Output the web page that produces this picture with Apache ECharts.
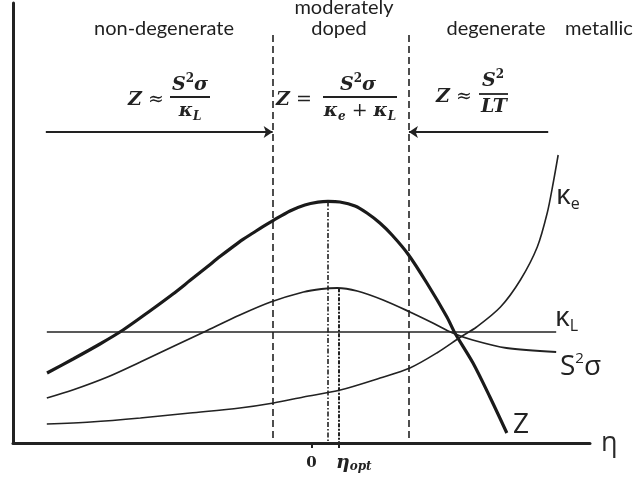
<!DOCTYPE html>
<html>
<head>
<meta charset="utf-8">
<script src="https://cdn.jsdelivr.net/npm/echarts@6/dist/echarts.min.js"></script>
<style>
  html, body { margin: 0; padding: 0; background: #fff; }
  #chart { width: 637px; height: 483px; }
</style>
</head>
<body>
<div id="chart"></div>
<script>
// Reduced Fermi level η on x, relative magnitude on y (arbitrary units).
const zCurve = [
  [-13.29, 3.5], [-11.98, 4.2], [-10.63, 4.95], [-9.47, 5.65], [-8.12, 6.6],
  [-6.96, 7.45], [-6.11, 8.12], [-5.25, 8.8], [-4.6, 9.32], [-3.94, 9.82],
  [-3.44, 10.18], [-2.94, 10.5], [-2.44, 10.82], [-1.93, 11.12], [-1.08, 11.6],
  [-0.33, 11.9], [0.33, 12.04], [0.83, 12.08], [1.43, 12.05], [2.19, 11.85],
  [2.79, 11.5], [3.44, 11.0], [4.05, 10.4], [4.85, 9.45], [5.8, 8.0],
  [6.81, 6.3], [7.21, 5.5], [8.12, 4.0], [8.97, 2.3], [9.82, 0.5]
];
const powerFactor = [
  [-13.3, 2.25], [-12.0, 2.65], [-10.25, 3.3], [-8.6, 4.05], [-6.9, 4.85],
  [-5.4, 5.55], [-3.6, 6.4], [-2.05, 7.05], [-0.4, 7.55], [0.5, 7.7], [1.3, 7.75],
  [2.3, 7.6], [3.6, 7.15], [4.95, 6.55], [6.1, 6.0], [7.1, 5.5],
  [8.1, 5.15], [9.8, 4.75], [12.3, 4.55]
];
const kappaE = [
  [-13.3, 0.95], [-11.1, 1.05], [-8.6, 1.25], [-6.1, 1.5], [-3.6, 1.75],
  [-1.9, 2.0], [-0.4, 2.3], [1.45, 2.65], [3.45, 3.25], [4.95, 3.75],
  [6.3, 4.5], [7.5, 5.3], [8.3, 5.8], [9.5, 6.8], [10.5, 8.15],
  [11.35, 9.8], [11.85, 11.5], [12.15, 13.0], [12.4, 14.4]
];
const kappaL = [[-13.3, 5.55], [12.3, 5.55]];

const regionBounds = [-1.95, 4.9];     // non-degenerate | moderately doped | degenerate
const regionTop = 20.4;
const zPeak = [0.83, 12.08];
const etaOpt = 1.38;
const pfPeakValue = 7.74;
const arrowLevel = 15.55;
const leftArrow = [-13.35, -1.95];
const rightArrow = [11.9, 4.9];
const tickValues = [0, etaOpt];

const ink = '#222';
const textInk = '#1f1f1f';
const serif = '"DejaVu Serif", "Liberation Serif", serif';
const sans = '"Open Sans", "DejaVu Sans", sans-serif';
const lato = 'Lato, "Open Sans", sans-serif';

const chart = echarts.init(document.getElementById('chart'), null, { renderer: 'canvas' });

const mathRich = {
  m: { fontFamily: serif, fontStyle: 'italic', fontWeight: 'bold', fontSize: 19, lineHeight: 24, color: ink, verticalAlign: 'middle' },
  r: { fontFamily: serif, fontSize: 19, lineHeight: 24, color: ink, verticalAlign: 'middle' },
  sup: { fontFamily: serif, fontWeight: 'bold', fontSize: 12, lineHeight: 12, color: ink, verticalAlign: 'top' },
  sub: { fontFamily: serif, fontStyle: 'italic', fontWeight: 'bold', fontSize: 12, lineHeight: 12, color: ink, verticalAlign: 'bottom' }
};
const labelRich = {
  b: { fontFamily: sans, fontSize: 28, lineHeight: 32, color: '#2a2a2a', verticalAlign: 'middle' },
  sup: { fontFamily: sans, fontSize: 15, lineHeight: 15, color: '#2a2a2a', verticalAlign: 'top' },
  sub: { fontFamily: sans, fontSize: 16, lineHeight: 16, color: '#2a2a2a', verticalAlign: 'bottom' }
};
const tickRich = {
  z: { fontFamily: serif, fontWeight: 'bold', fontSize: 15, lineHeight: 20, color: ink },
  e: { fontFamily: serif, fontStyle: 'italic', fontWeight: 'bold', fontSize: 19, lineHeight: 20, color: ink },
  s: { fontFamily: serif, fontStyle: 'italic', fontWeight: 'bold', fontSize: 12, lineHeight: 12, color: ink, verticalAlign: 'bottom' }
};

function txt(x, y, text, align, rich) {
  return {
    type: 'text', x: x, y: y, silent: true,
    style: {
      text: text, align: align, verticalAlign: 'middle',
      textAlign: align, textVerticalAlign: 'middle',
      rich: rich, fill: ink
    }
  };
}
function plain(x, y, text, align, font, color) {
  return {
    type: 'text', x: x, y: y, silent: true,
    style: { text: text, align: align, verticalAlign: 'middle', textAlign: align, textVerticalAlign: 'middle', font: font, fill: color || textInk }
  };
}
function bar(x1, x2, y) {
  return { type: 'line', silent: true, shape: { x1: x1, y1: y, x2: x2, y2: y }, style: { stroke: ink, lineWidth: 1.8 } };
}

const vLine = (x, y1, type, width) => [
  { coord: [x, y1], lineStyle: { type: type, width: width, color: ink } },
  { coord: [x, 0] }
];

const option = {
  animation: false,
  backgroundColor: '#fff',
  grid: { left: 13, right: 47, top: 3, bottom: 40 },
  xAxis: [
    {
      type: 'value', min: -15, max: 14,
      name: 'η', nameLocation: 'end', nameGap: 11,
      nameTextStyle: { fontFamily: sans, fontSize: 27, color: '#2a2a2a', verticalAlign: 'middle', padding: [0, 0, 4, 0] },
      axisLine: { show: true, onZero: false, lineStyle: { color: ink, width: 3 } },
      axisTick: { show: true, customValues: tickValues, length: 5, lineStyle: { color: ink, width: 2 } },
      axisLabel: {
        show: true, customValues: [tickValues[0]], margin: 10,
        formatter: () => '{z|0}', rich: tickRich
      },
      splitLine: { show: false }
    },
    {
      // carries only the η_opt tick label, set to the right of its tick
      type: 'value', min: -15, max: 14, position: 'bottom', offset: 0,
      axisLine: { show: false }, axisTick: { show: false }, splitLine: { show: false },
      axisLabel: {
        show: true, customValues: [tickValues[1]], margin: 10, align: 'left',
        padding: [0, 0, 0, -3],
        formatter: () => '{e|η}{s|opt}', rich: tickRich
      }
    }
  ],
  yAxis: {
    type: 'value', min: 0, max: 22,
    axisLine: { show: true, onZero: false, lineStyle: { color: ink, width: 3 } },
    axisTick: { show: false }, axisLabel: { show: false }, splitLine: { show: false }
  },
  series: [
    {
      name: 'Z', type: 'line', data: zCurve, smooth: 0.3, showSymbol: false, silent: true,
      lineStyle: { color: '#1a1a1a', width: 3.2 }
    },
    {
      name: 'S²σ', type: 'line', data: powerFactor, smooth: 0.3, showSymbol: false, silent: true,
      lineStyle: { color: ink, width: 1.8 }
    },
    {
      name: 'κe', type: 'line', data: kappaE, smooth: 0.3, showSymbol: false, silent: true,
      lineStyle: { color: ink, width: 1.6 }
    },
    {
      name: 'κL', type: 'line', data: kappaL, showSymbol: false, silent: true,
      lineStyle: { color: ink, width: 1.6 },
      markLine: {
        silent: true, symbol: ['none', 'none'], label: { show: false },
        data: [
          vLine(regionBounds[0], regionTop, [7, 4], 1.6),
          vLine(regionBounds[1], regionTop, [7, 4], 1.6),
          vLine(zPeak[0], zPeak[1], [5, 2, 1.5, 2], 1.6),
          vLine(etaOpt, pfPeakValue, [4, 1.5, 2, 1.5], 2),
          [
            { coord: [leftArrow[0], arrowLevel], symbol: 'none', lineStyle: { type: 'solid', width: 1.8, color: ink } },
            { coord: [leftArrow[1], arrowLevel], symbol: 'arrow', symbolSize: 9 }
          ],
          [
            { coord: [rightArrow[0], arrowLevel], symbol: 'none', lineStyle: { type: 'solid', width: 1.8, color: ink } },
            { coord: [rightArrow[1], arrowLevel], symbol: 'arrow', symbolSize: 9 }
          ]
        ]
      }
    }
  ],
  graphic: {
    elements: [
      // regime names
      plain(164, 29, 'non-degenerate', 'center', '20px ' + lato),
      plain(344, 8, 'moderately', 'center', '20px ' + lato),
      plain(339, 29, 'doped', 'center', '20px ' + lato),
      plain(496, 29, 'degenerate', 'center', '20px ' + lato),
      plain(599, 29, 'metallic', 'center', '20px ' + lato),

      // Z ≈ S²σ / κL
      txt(128, 100, '{m|Z}{r| ≈ }', 'left', mathRich),
      txt(190, 85, '{m|S}{sup|2}{m|σ}', 'center', mathRich),
      bar(170, 210, 97),
      txt(190, 111, '{m|κ}{sub|L}', 'center', mathRich),

      // Z = S²σ / (κe + κL)
      txt(276, 100, '{m|Z}{r| = }', 'left', mathRich),
      txt(358, 85, '{m|S}{sup|2}{m|σ}', 'center', mathRich),
      bar(323, 397, 97),
      txt(360, 111, '{m|κ}{sub|e}{r| + }{m|κ}{sub|L}', 'center', mathRich),

      // Z ≈ S² / LT
      txt(436, 97, '{m|Z}{r| ≈ }', 'left', mathRich),
      txt(493, 81, '{m|S}{sup|2}', 'center', mathRich),
      bar(479, 508, 94),
      txt(494, 107, '{m|LT}', 'center', mathRich),

      // curve names
      txt(556, 196, '{b|κ}{sub|e}', 'left', labelRich),
      txt(555, 318, '{b|κ}{sub|L}', 'left', labelRich),
      txt(560, 367, '{b|S}{sup|2}{b|σ}', 'left', labelRich),
      txt(513, 425, '{b|Z}', 'left', labelRich)
    ]
  }
};

chart.setOption(option);
</script>
</body>
</html>
